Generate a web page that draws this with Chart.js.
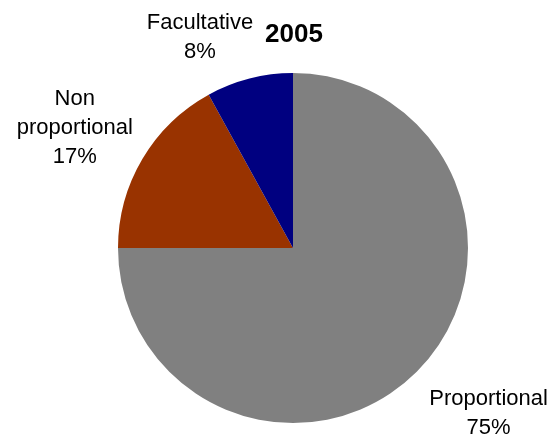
<!DOCTYPE html>
<html>
<head>
<meta charset="utf-8">
<script src="https://cdn.jsdelivr.net/npm/chart.js@4.4.0/dist/chart.umd.min.js"></script>
<style>
  html, body { margin: 0; padding: 0; background: #fff; }
  #wrap { width: 555px; height: 441px; position: relative; }
</style>
</head>
<body>
<div id="wrap"><canvas id="pieChart"></canvas></div>
<script>
// datos
const titulo = '2005';
const categorias = ['Proportional', 'Non proportional', 'Facultative'];
const valores = [75, 17, 8];
const colores = ['#808080', '#993300', '#000080'];

// lineas de texto de cada etiqueta (como en el original)
const lineasEtiqueta = [['Proportional'], ['Non', 'proportional'], ['Facultative']];
// ajuste de posicion: giro (grados) y distancia relativa al radio
const ajusteEtiqueta = [
    { giro: -4.8, dist: 1.463 },
    { giro: -1.8, dist: 1.423 },
    { giro: -9.4, dist: 1.318 }
];

const FUENTE = '"Liberation Sans", Arial, sans-serif';

const etiquetasPlugin = {
    id: 'etiquetas',
    afterDraw(chart) {
        const ctx = chart.ctx;
        const meta = chart.getDatasetMeta(0);
        const total = valores.reduce((a, b) => a + b, 0);
        ctx.save();
        ctx.fillStyle = '#000';
        ctx.textAlign = 'center';
        ctx.textBaseline = 'middle';
        ctx.font = '22px ' + FUENTE;
        meta.data.forEach((arc, i) => {
            const p = arc.getProps(['x', 'y', 'startAngle', 'endAngle', 'outerRadius'], true);
            const ang = (p.startAngle + p.endAngle) / 2 + ajusteEtiqueta[i].giro * Math.PI / 180;
            const r = p.outerRadius * ajusteEtiqueta[i].dist;
            const cx = p.x + Math.cos(ang) * r;
            const cy = p.y + Math.sin(ang) * r;
            const lineas = lineasEtiqueta[i].concat([Math.round(valores[i] / total * 100) + '%']);
            const alto = 29;
            const y0 = cy - (lineas.length - 1) * alto / 2;
            lineas.forEach((t, k) => ctx.fillText(t, cx, y0 + k * alto));
        });
        // titulo
        ctx.font = 'bold 26px ' + FUENTE;
        ctx.fillText(titulo, meta.data[0].x + 1, 35);
        ctx.restore();
    }
};

const ctx = document.getElementById('pieChart').getContext('2d');
new Chart(ctx, {
    type: 'pie',
    data: {
        labels: categorias,
        datasets: [{
            data: valores,
            backgroundColor: colores,
            borderWidth: 0
        }]
    },
    options: {
        responsive: true,
        maintainAspectRatio: false,
        animation: false,
        layout: {
            padding: { top: 73, bottom: 18, left: 118, right: 87 }
        },
        plugins: {
            legend: { display: false },
            tooltip: { enabled: false },
            title: { display: false }
        }
    },
    plugins: [etiquetasPlugin]
});
</script>
</body>
</html>
